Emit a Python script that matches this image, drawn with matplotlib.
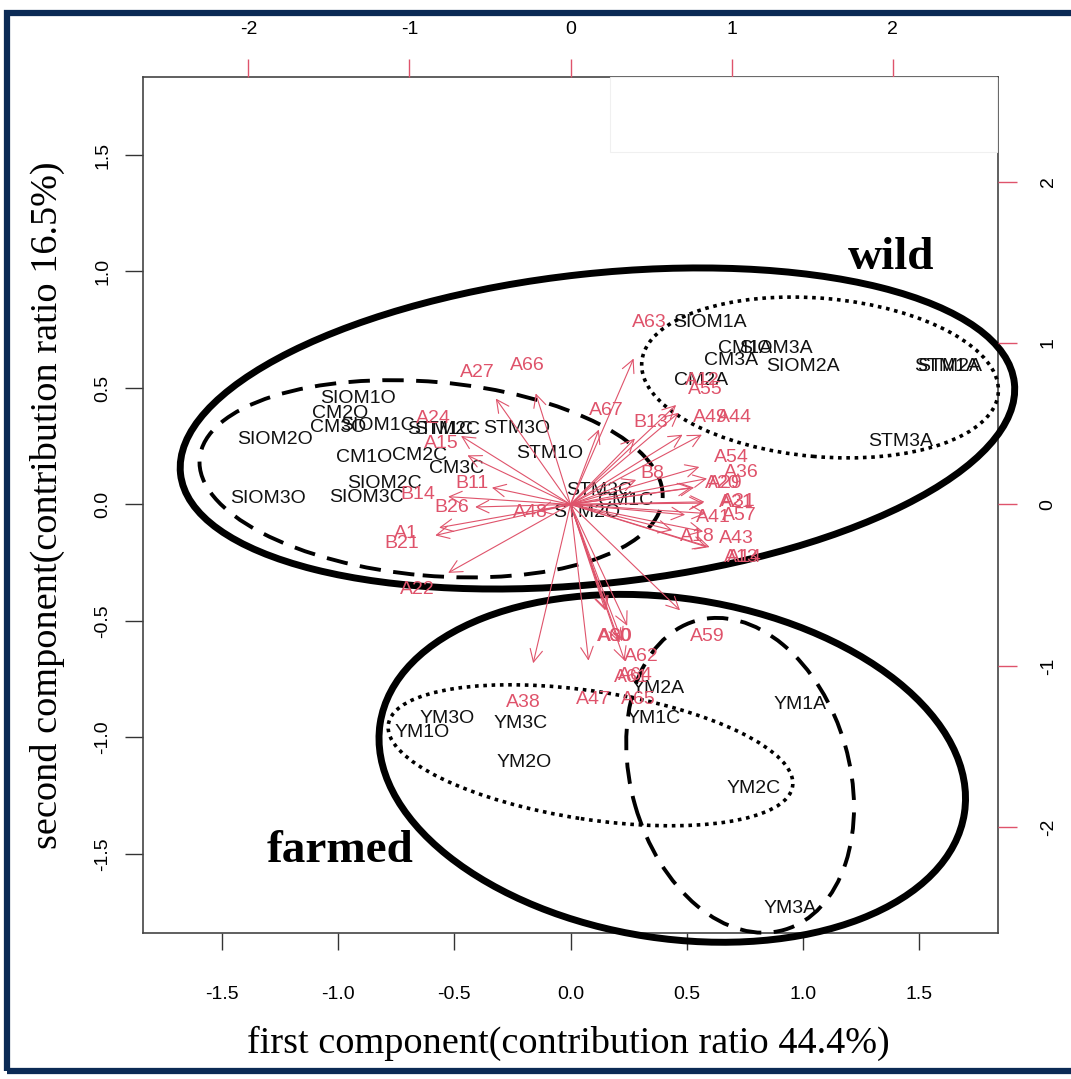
"""PCA biplot of wild vs farmed samples."""

import matplotlib.pyplot as plt
from matplotlib.patches import Ellipse, Rectangle

plt.rcParams["axes.unicode_minus"] = False

# sample scores (first / second component)
score_labels = [
    "SIOM1A", "CM1A", "SIOM3A", "CM3A", "SIOM2A", "CM2A", "STM1A", "STM2A", "STM3A",
    "SIOM1O", "CM2O", "CM3O", "SIOM1C", "SIOM2O", "STM1C", "STM2C", "STM3O", "STM1O",
    "CM1O", "CM2C", "CM3C", "SIOM2C", "SIOM3C", "SIOM3O", "STM3C", "CM1C", "STM2O",
    "YM2A", "YM1A", "YM3O", "YM1O", "YM3C", "YM1C", "YM2O", "YM2C", "YM3A",
]
score_x = [
    0.60, 0.75, 0.885, 0.69, 1.00, 0.56, 1.62, 1.63, 1.42,
    -0.915, -0.99, -1.00, -0.83, -1.27, -0.56, -0.53, -0.23, -0.09,
    -0.89, -0.65, -0.49, -0.80, -0.88, -1.30, 0.125, 0.236, 0.07,
    0.378, 0.99, -0.53, -0.64, -0.215, 0.357, -0.20, 0.79, 0.945,
]
score_y = [
    0.78, 0.67, 0.67, 0.62, 0.59, 0.53, 0.59, 0.59, 0.27,
    0.455, 0.39, 0.33, 0.34, 0.28, 0.32, 0.32, 0.326, 0.22,
    0.20, 0.21, 0.155, 0.09, 0.03, 0.026, 0.06, 0.017, -0.034,
    -0.79, -0.86, -0.92, -0.98, -0.94, -0.92, -1.11, -1.22, -1.735,
]

# variable loadings (top / right axes)
load_labels = [
    "A63", "A27", "A66", "A67", "B13", "A12", "A55", "A49", "A44", "A54",
    "A36", "A29", "A20", "A31", "A21", "A41", "A57", "A18", "A43", "A13",
    "A14", "B8", "A24", "A15", "B11", "B14", "B26", "A1", "B21", "A22",
    "A48", "A60", "A30", "A59", "A62", "A61", "A64", "A65", "A47", "A38",
]
load_x = [
    0.49, -0.58, -0.27, 0.22, 0.50, 0.82, 0.84, 0.87, 1.02, 1.00,
    1.06, 0.96, 0.94, 1.04, 1.03, 0.89, 1.05, 0.79, 1.03, 1.06,
    1.08, 0.51, -0.85, -0.80, -0.61, -0.95, -0.74, -1.02, -1.05, -0.95,
    -0.25, 0.27, 0.28, 0.85, 0.44, 0.38, 0.40, 0.42, 0.14, -0.29,
]
load_y = [
    1.13, 0.82, 0.86, 0.58, 0.51, 0.77, 0.71, 0.54, 0.54, 0.29,
    0.20, 0.13, 0.13, 0.02, 0.01, -0.08, -0.07, -0.20, -0.21, -0.33,
    -0.33, 0.19, 0.53, 0.38, 0.13, 0.06, -0.02, -0.18, -0.24, -0.53,
    -0.05, -0.82, -0.82, -0.82, -0.94, -1.07, -1.06, -1.21, -1.21, -1.23,
]

# group ellipses: centre, semi-axes, angle
ell_cx = [0.116, -0.60, 1.074, 0.438, 0.086, 0.73]
ell_cy = [0.326, 0.11, 0.545, -1.133, -1.077, -1.163]
ell_a = [1.805, 1.00, 0.77, 1.272, 0.88, 0.69]
ell_b = [0.665, 0.416, 0.34, 0.73, 0.275, 0.47]
ell_ang = [6.2, -5.0, -5.0, -8.7, -8.7, -74.0]
ell_kind = ["solid", "dashed", "dotted", "solid", "dotted", "dashed"]

RED = "#DF536B"
XLIM = (-1.84, 1.84)
YLIM = (-1.84, 1.835)
RATIO = 0.693  # loading axis scale relative to score axis

fig = plt.figure(figsize=(10.71, 10.79), dpi=100)
pos = [143 / 1071, 1 - 933 / 1079, 855 / 1071, 856 / 1079]
ax = fig.add_axes(pos)
ax2 = fig.add_axes(pos, frameon=False)

ax.set_xlim(XLIM)
ax.set_ylim(YLIM)
ax2.set_xlim(XLIM[0] / RATIO, XLIM[1] / RATIO)
ax2.set_ylim(YLIM[0] / RATIO, YLIM[1] / RATIO)

tick_font = ["Liberation Sans Narrow", "Liberation Sans"]

ax.set_xticks([-1.5, -1.0, -0.5, 0.0, 0.5, 1.0, 1.5])
ax.set_yticks([-1.5, -1.0, -0.5, 0.0, 0.5, 1.0, 1.5])
ax.set_xticklabels(["-1.5", "-1.0", "-0.5", "0.0", "0.5", "1.0", "1.5"],
                   family=tick_font, fontsize=14)
ax.set_yticklabels(["-1.5", "-1.0", "-0.5", "0.0", "0.5", "1.0", "1.5"],
                   family=tick_font, fontsize=14, rotation=90, va="center")
ax.tick_params(axis="x", length=12, width=1, color="#333333", pad=26)
ax.tick_params(axis="y", length=13, width=1, color="#333333", pad=10)
for sp in ax.spines.values():
    sp.set_color("#444444")
    sp.set_linewidth(1.2)

ax2.xaxis.tick_top()
ax2.yaxis.tick_right()
ax2.set_xticks([-2, -1, 0, 1, 2])
ax2.set_yticks([-2, -1, 0, 1, 2])
ax2.set_xticklabels(["-2", "-1", "0", "1", "2"], family=tick_font, fontsize=14)
ax2.set_yticklabels(["-2", "-1", "0", "1", "2"], family=tick_font, fontsize=14,
                    rotation=90, va="center")
ax2.tick_params(axis="x", length=13, width=1, color=RED, pad=15)
ax2.tick_params(axis="y", length=14, width=1, color=RED, pad=16)

# faint box left in the top right corner of the original
fig.patches.append(Rectangle((610 / 1071, 1 - 152 / 1079), 387 / 1071, 75 / 1079,
                             transform=fig.transFigure, fill=False,
                             edgecolor="#f0f0f0", lw=0.8))

# loading arrows (drawn to 0.8 of label position, as in R biplot)
for lab, u, v in zip(load_labels, load_x, load_y):
    ax2.annotate("", xy=(0.8 * u, 0.8 * v), xytext=(0, 0),
                 arrowprops=dict(arrowstyle="->,head_length=0.9,head_width=0.45",
                                 color=RED, lw=0.8, shrinkA=0, shrinkB=0))
    ax2.text(u, v, lab, color=RED, fontsize=14, ha="center", va="center",
             family="Liberation Sans")

for lab, x, y in zip(score_labels, score_x, score_y):
    ax.text(x, y, lab, color="#111111", fontsize=14, ha="center", va="center",
            family="Liberation Sans", zorder=3)

styles = {
    "solid": dict(lw=5.0, linestyle="-"),
    "dashed": dict(lw=2.8, linestyle=(0, (5.5, 3.2))),
    "dotted": dict(lw=2.6, linestyle=(0, (1.0, 1.3))),
}
for cx, cy, a, b, ang, kind in zip(ell_cx, ell_cy, ell_a, ell_b, ell_ang, ell_kind):
    ax.add_patch(Ellipse((cx, cy), 2 * a, 2 * b, angle=ang, fill=False,
                         edgecolor="black", clip_on=False, zorder=4, **styles[kind]))

ax.text(1.38, 1.056, "wild", fontsize=34, fontweight="bold", family="Liberation Serif",
        ha="center", va="center")
ax.text(-0.99, -1.49, "farmed", fontsize=34, fontweight="bold", family="Liberation Serif",
        ha="center", va="center")

fig.text(568 / 1071, 1 - 1043 / 1079, "first component(contribution ratio 44.4%)",
         fontsize=27.5, family="Liberation Serif", ha="center", va="center")
fig.text(47 / 1071, 1 - 505 / 1079, "second component(contribution ratio 16.5%)",
         fontsize=27.5, family="Liberation Serif", ha="center", va="center", rotation=90)

# navy frame round the figure
fig.patches.append(Rectangle((7 / 1071, 1 - 1071 / 1079), 1.2, (1071 - 13) / 1079,
                             transform=fig.transFigure, fill=False,
                             edgecolor="#0b2a55", lw=4.5))

fig.savefig("out.png", dpi=100)
